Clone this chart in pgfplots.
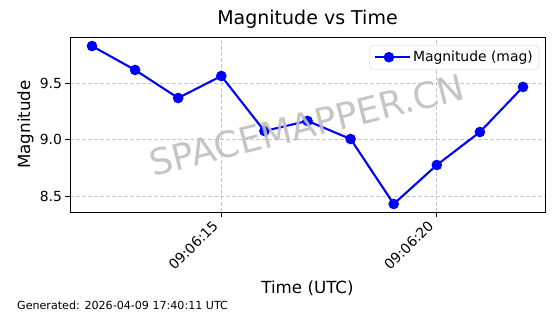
\documentclass[border=0pt]{standalone}
\usepackage{pgfplots}
\pgfplotsset{compat=1.18}
\usepackage{fontspec}
\setmainfont{DejaVu Sans}
\definecolor{mblue}{RGB}{0,0,255}
\begin{document}
\begin{tikzpicture}[x=1pt,y=1pt]
\path[use as bounding box] (0,0) rectangle (560,314);
\begin{axis}[
  scale only axis,
  width=475pt, height=175pt,
  at={(70pt,102pt)}, anchor=south west,
  xmin=11.49, xmax=22.51,
  ymin=8.358, ymax=9.907,
  xtick={15,20},
  xticklabels={09:06:15,09:06:20},
  ytick={8.5,9.0,9.5},
  xtick pos=bottom, ytick pos=left,
  yticklabel style={/pgf/number format/fixed,/pgf/number format/precision=1,/pgf/number format/fixed zerofill},
  /pgf/number format/assume math mode=true,
  tick label style={font=\fontsize{13.9}{16}\selectfont},
  xticklabel style={xshift=-2pt, yshift=-10pt, rotate=45, anchor=south east, inner sep=0pt},
  yticklabel style={inner sep=0pt, xshift=-3pt},
  tick align=outside,
  major tick length=4.9pt,
  every tick/.style={black, line width=0.9pt},
  axis line style={line width=0.9pt},
  grid=major,
  major grid style={black!22, line width=0.8pt, dash pattern=on 4pt off 2pt},
  title={Magnitude vs Time},
  title style={at={(axis description cs:0.5,1.04)}, anchor=base, font=\fontsize{19}{22}\selectfont},
  xlabel={Time (UTC)},
  xlabel style={at={(axis description cs:0.5,-0.4629)}, anchor=base, font=\fontsize{16.7}{19}\selectfont},
  ylabel={Magnitude},
  ylabel style={at={(axis description cs:-0.0842,0.5)}, anchor=base, font=\fontsize{16.7}{19}\selectfont},
  legend style={at={(1,1)}, anchor=north east, xshift=-6pt, yshift=-8pt, draw=black!18, rounded corners=3pt, font=\fontsize{13.9}{16}\selectfont, inner xsep=4pt, inner ysep=4pt},
  legend cell align=left,
  legend image code/.code={
    \path (0pt,0pt) -- (35pt,0pt);
    \draw[mblue, line width=2.1pt] (0pt,0pt) -- (28pt,0pt);
    \fill[mblue] (14pt,0pt) circle (4.2pt);
  },
  clip=false,
]
\addplot[mblue, line width=2.1pt, mark=*, mark size=4.2pt, mark options={fill=mblue, draw=mblue}]
coordinates {
(12,9.827) (13,9.615) (14,9.367) (15,9.562) (16,9.075) (17,9.164)
(18,9.004) (19,8.429) (20,8.774) (21,9.066) (22,9.465)
};
\addlegendentry{Magnitude (mag)}
\end{axis}
\node[rotate=14, text=black!25, font=\fontsize{36}{40}\selectfont, opacity=0.9] at (307,189) {SPACEMAPPER.CN};
\node[anchor=base west, font=\fontsize{11.1}{13}\selectfont, inner sep=0pt] at (17,5) {Generated: 2026-04-09 17:40:11 UTC};
\end{tikzpicture}
\end{document}
